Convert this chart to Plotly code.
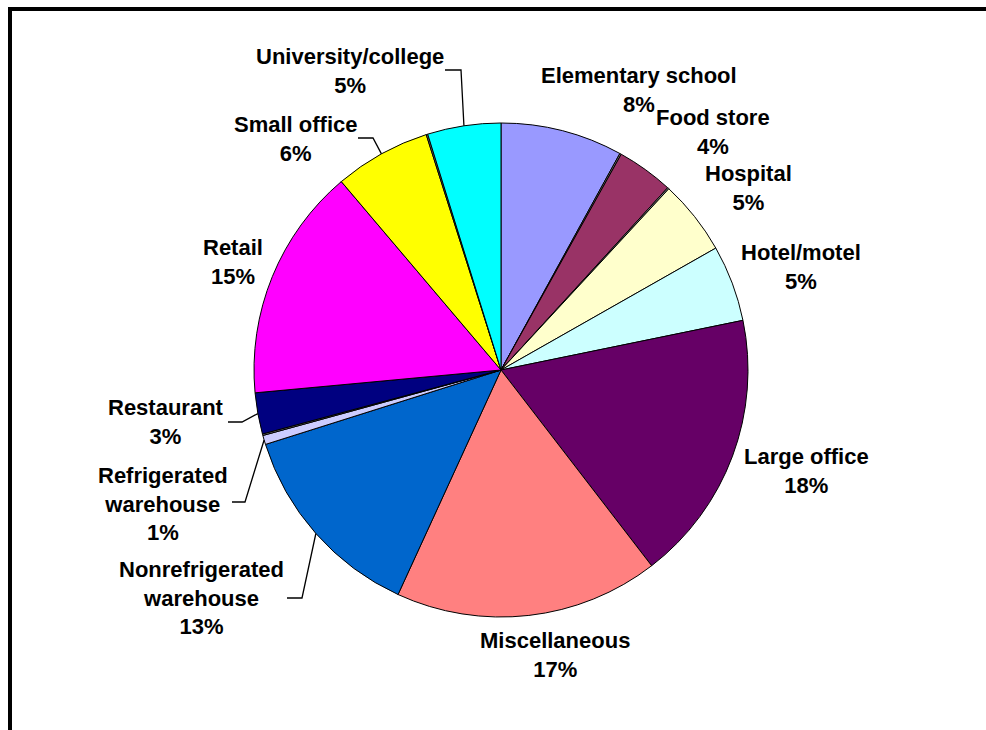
import math
import plotly.graph_objects as go

W, H = 986, 730

# Building types, clockwise from 12 o'clock (share of total, %)
categories = [
    "Elementary school", "Gap A", "Food store", "Gap B", "Hospital",
    "Hotel/motel", "Large office", "Miscellaneous",
    "Nonrefrigerated warehouse", "Refrigerated warehouse", "Gap C",
    "Restaurant", "Retail", "Small office", "Gap D", "University/college",
]
values = [8.0, 0.1, 3.7, 0.1, 4.9, 5.0, 17.8, 17.3, 13.3, 0.6, 0.1,
          2.7, 15.3, 6.3, 0.1, 4.8]
colors = [
    "#9999FF", "#808080", "#993366", "#808080", "#FFFFCC",
    "#CCFFFF", "#660066", "#FF8080", "#0066CC", "#CCCCFF", "#808080",
    "#000080", "#FF00FF", "#FFFF00", "#808080", "#00FFFF",
]

# Label text lines for the named slices
label_lines = {
    "Elementary school": ["Elementary school"],
    "Food store": ["Food store"],
    "Hospital": ["Hospital"],
    "Hotel/motel": ["Hotel/motel"],
    "Large office": ["Large office"],
    "Miscellaneous": ["Miscellaneous"],
    "Nonrefrigerated warehouse": ["Nonrefrigerated", "warehouse"],
    "Refrigerated warehouse": ["Refrigerated", "warehouse"],
    "Restaurant": ["Restaurant"],
    "Retail": ["Retail"],
    "Small office": ["Small office"],
    "University/college": ["University/college"],
}

# Label block centres (pixels) and leader-line elbows
label_pos = {
    "Elementary school": (639, 90),
    "Food store": (713, 132),
    "Hospital": (748, 188),
    "Hotel/motel": (801, 267),
    "Large office": (806, 471),
    "Miscellaneous": (555, 655),
    "Nonrefrigerated warehouse": (201, 598),
    "Refrigerated warehouse": (163, 504),
    "Restaurant": (166, 422),
    "Retail": (233, 262),
    "Small office": (295, 139),
    "University/college": (350, 71),
}
leaders = {
    "University/college": [(445, 70), (461, 70)],
    "Small office": [(358, 138), (373, 138)],
    "Restaurant": [(228, 422), (242, 422)],
    "Refrigerated warehouse": [(232, 502), (245, 502)],
    "Nonrefrigerated warehouse": [(287, 598), (302, 598)],
}

CX, CY, R = 501, 370, 247


def px(x, y):
    return x / W, 1 - y / H


fig = go.Figure(go.Pie(
    labels=categories,
    values=values,
    sort=False,
    direction="clockwise",
    rotation=0,
    marker=dict(colors=colors, line=dict(color="black", width=1)),
    textinfo="none",
    hoverinfo="label+percent",
    domain=dict(x=[(CX - R) / W, (CX + R) / W],
                y=[1 - (CY + R) / H, 1 - (CY - R) / H]),
    showlegend=False,
))

total = sum(values)
font = dict(family="Liberation Sans, Arial, sans-serif", size=22,
            color="black", weight="bold")

annotations = []
shapes = []
cum = 0.0
for name, v in zip(categories, values):
    start = cum
    cum += v
    if name not in label_lines:
        continue
    pct = round(v / total * 100)
    text = "<br>".join(label_lines[name] + [f"{pct}%"])
    lx, ly = label_pos[name]
    ax, ay = px(lx, ly)
    annotations.append(dict(
        x=ax, y=ay, xref="paper", yref="paper", text=text,
        showarrow=False, xanchor="center", yanchor="middle",
        align="center", font=font,
    ))
    if name in leaders:
        mid = (start + v / 2) / total * 2 * math.pi
        ex = CX + R * math.sin(mid)
        ey = CY - R * math.cos(mid)
        pts = leaders[name] + [(ex, ey)]
        path = "M " + " L ".join(
            f"{px(x, y)[0]:.5f},{px(x, y)[1]:.5f}" for x, y in pts)
        shapes.append(dict(type="path", path=path, xref="paper",
                           yref="paper", line=dict(color="black", width=1.3)))

# Outer frame (runs off the right and bottom edges)
x0, y0 = px(10, 9)
x1, y1 = px(W + 20, H + 20)
shapes.append(dict(type="rect", xref="paper", yref="paper",
                   x0=x0, y0=y0, x1=x1, y1=y1,
                   line=dict(color="black", width=4)))

fig.update_layout(
    width=W, height=H,
    margin=dict(l=0, r=0, t=0, b=0),
    paper_bgcolor="white",
    plot_bgcolor="white",
    annotations=annotations,
    shapes=shapes,
)

fig.write_html("out.html")
